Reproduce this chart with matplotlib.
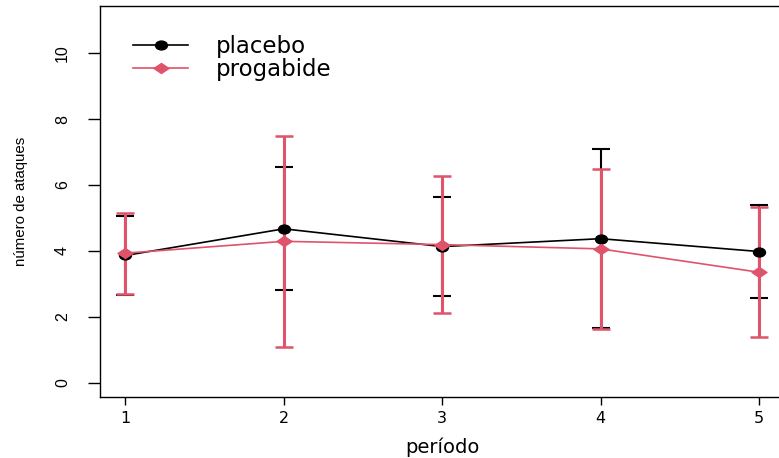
import matplotlib.pyplot as plt
from matplotlib.lines import Line2D
from matplotlib.path import Path

# média e desvio do número de ataques por período
periodo = [1, 2, 3, 4, 5]
placebo_media = [3.86, 4.67, 4.13, 4.37, 3.98]
placebo_dp = [1.21, 1.87, 1.51, 2.71, 1.40]
progabide_media = [3.93, 4.29, 4.19, 4.06, 3.35]
progabide_dp = [1.23, 3.21, 2.08, 2.43, 1.98]

preto = 'black'
rosa = '#DF536B'

plt.rcParams['font.family'] = 'DejaVu Sans'

# marcadores um pouco achatados
circ = Path.unit_circle()
elipse = Path(circ.vertices * [1.35, 1.0], circ.codes)
losango = Path([(-1.5, 0), (0, 1), (1.5, 0), (0, -1), (-1.5, 0)],
               [Path.MOVETO, Path.LINETO, Path.LINETO, Path.LINETO, Path.CLOSEPOLY])

fig = plt.figure(figsize=(7.79, 4.58), dpi=100)
ax = fig.add_axes([0.1284, 0.1332, 0.8786, 0.8537])

ax.errorbar(periodo, placebo_media, yerr=placebo_dp, fmt='none', ecolor=preto,
            elinewidth=1.5, capsize=6.5, capthick=1.5)
ax.errorbar(periodo, progabide_media, yerr=progabide_dp, fmt='none', ecolor=rosa,
            elinewidth=2.2, capsize=6.5, capthick=1.8)
ax.plot(periodo, placebo_media, color=preto, lw=1.2, marker=elipse, ms=8.6)
ax.plot(periodo, progabide_media, color=rosa, lw=1.2, marker=losango, ms=10.8)

ax.set_xlim(0.84, 5.16)
ax.set_ylim(-0.44, 11.44)
ax.set_xticks(periodo)
ax.set_yticks([0, 2, 4, 6, 8, 10])

ax.tick_params(axis='x', length=5.8, width=1, pad=4.5, labelsize=11.5)
ax.tick_params(axis='y', length=8.6, width=1, pad=13, labelsize=11.5, labelrotation=90)
for lab in ax.get_yticklabels():
    lab.set_fontfamily('Liberation Sans')
    lab.set_verticalalignment('center')
for sp in ax.spines.values():
    sp.set_linewidth(1)

ax.set_xlabel('período', fontsize=14, labelpad=8)
ax.set_ylabel('número de ataques', fontsize=10.8, family='Liberation Sans', labelpad=19.5)

handles = [Line2D([], [], color=preto, lw=1.2, marker=elipse, ms=8.6),
           Line2D([], [], color=rosa, lw=1.2, marker=losango, ms=10.8)]
ax.legend(handles, ['placebo', 'progabide'], loc='upper left', frameon=False,
          fontsize=16.5, handlelength=2.4, handletextpad=1.2, labelspacing=0.0,
          bbox_to_anchor=(0.035, 0.95), borderaxespad=0)

fig.savefig('out.png', dpi=100)
